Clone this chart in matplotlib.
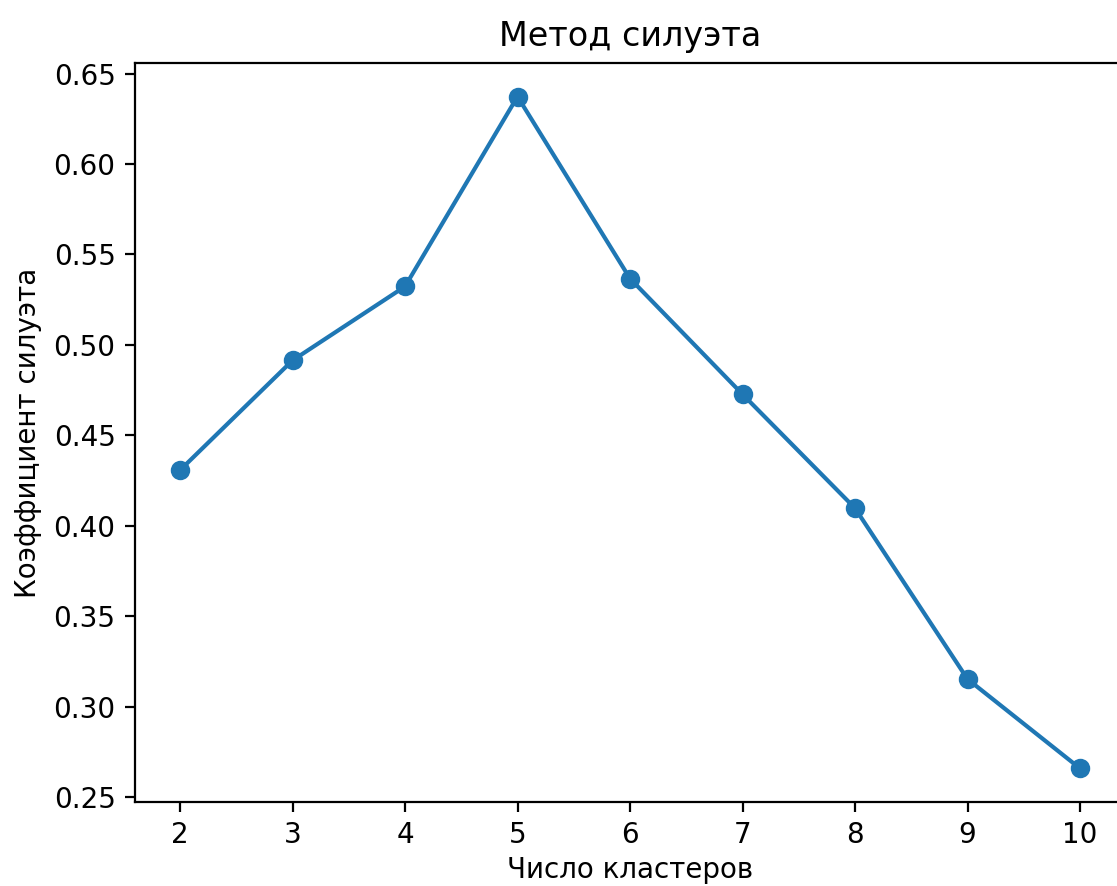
import matplotlib
matplotlib.use("Agg")
import matplotlib.pyplot as plt

# Данные: число кластеров и коэффициент силуэта
n_clusters = [2, 3, 4, 5, 6, 7, 8, 9, 10]
silhouette = [0.4307, 0.4914, 0.5323, 0.6373, 0.5367, 0.4727, 0.4097, 0.3152, 0.2658]

fig = plt.figure(figsize=(1117 / 200, 886 / 200), dpi=200)
ax = fig.add_axes([135 / 1117, (886 - 802) / 886, 990 / 1117, (802 - 63) / 886])

ax.plot(n_clusters, silhouette, marker='o')
ax.set_title('Метод силуэта')
ax.set_xlabel('Число кластеров', labelpad=2.5)
ax.set_ylabel('Коэффициент силуэта')
ax.set_xticks(n_clusters)

fig.savefig('out.png', dpi=200)
